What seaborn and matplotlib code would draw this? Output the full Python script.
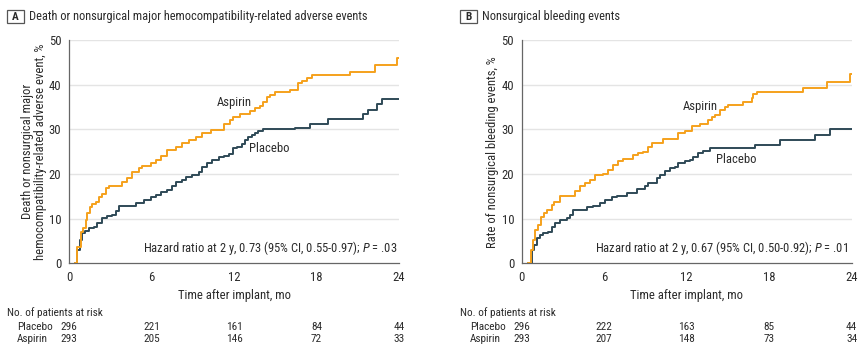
import matplotlib
matplotlib.use("Agg")
import matplotlib.pyplot as plt
from matplotlib import font_manager
from matplotlib.patches import Rectangle
import seaborn as sns
import pandas as pd

# ---------------- data ----------------
a_asp_t = [0.45, 0.61, 0.85, 1.02, 1.21, 1.33, 1.50, 1.70, 1.99, 2.18, 2.42, 2.67, 2.91, 3.88, 4.24, 4.61,
           5.09, 5.33, 5.94, 6.30, 6.67, 7.15, 7.76, 8.24, 8.73, 9.21, 9.70, 10.30, 11.27, 11.71, 11.95,
           12.44, 13.16, 13.53, 13.89, 14.13, 14.38, 14.62, 14.98, 16.07, 16.68, 16.92, 17.28, 17.65,
           20.44, 22.25, 23.83, 24.0]
a_asp_v = [0, 3.7, 7.1, 7.8, 9.7, 11.2, 12.7, 13.3, 13.8, 14.9, 15.5, 16.8, 17.3, 18.3, 19.0, 20.5,
           21.3, 21.8, 22.4, 23.1, 24.0, 25.4, 26.1, 26.9, 27.5, 28.2, 29.1, 29.9, 31.2, 32.0, 32.7,
           33.4, 34.2, 34.7, 35.2, 36.2, 37.2, 37.7, 38.4, 38.9, 40.3, 40.9, 41.4, 42.2,
           42.9, 44.4, 45.9, 45.9]
a_pla_t = [0.45, 0.61, 0.78, 0.97, 1.16, 1.45, 1.82, 2.06, 2.42, 2.79, 3.15, 3.39, 3.64, 4.85, 5.45, 5.94,
           6.30, 6.67, 7.15, 7.52, 7.76, 8.24, 8.48, 8.97, 9.45, 9.70, 10.06, 10.42, 10.91, 11.27, 11.64,
           11.95, 12.19, 12.56, 12.80, 13.04, 13.28, 13.53, 13.77, 14.13, 16.44, 17.53, 18.86, 21.40,
           21.77, 22.38, 22.74, 24.0]
a_pla_v = [0, 3.0, 5.2, 6.7, 7.3, 7.8, 8.2, 9.0, 10.1, 10.6, 10.8, 11.6, 12.8, 13.6, 14.2, 14.8,
           15.3, 16.0, 16.4, 17.3, 18.3, 18.7, 19.3, 19.8, 20.5, 21.6, 22.4, 23.1, 23.7, 24.0, 24.5,
           25.9, 26.1, 26.8, 27.6, 28.2, 28.7, 29.2, 29.7, 30.0, 30.4, 31.3, 32.2, 33.4,
           34.4, 35.6, 36.9, 36.9]

b_asp_t = [0.48, 0.68, 0.85, 1.00, 1.20, 1.40, 1.62, 1.85, 2.18, 2.37, 2.79, 3.88, 4.24, 4.61, 4.97, 5.33,
           5.94, 6.30, 6.67, 7.03, 7.39, 8.12, 8.48, 8.85, 9.21, 9.45, 10.30, 11.39, 11.88, 12.36, 12.97,
           13.57, 13.82, 14.06, 14.42, 14.79, 15.03, 16.12, 16.73, 16.84, 17.09, 20.48, 22.18, 23.88, 24.0]
b_asp_v = [0, 3.0, 5.2, 7.5, 8.6, 10.4, 11.2, 11.9, 13.1, 13.8, 15.1, 16.3, 17.2, 17.9, 18.7, 19.8,
           20.1, 20.9, 22.0, 22.8, 23.3, 24.3, 24.6, 25.0, 26.1, 26.9, 27.8, 29.1, 29.7, 30.7, 31.3,
           32.1, 32.7, 33.2, 34.3, 35.0, 35.4, 36.1, 37.1, 37.9, 38.4, 39.3, 40.6, 42.3, 42.3]
b_pla_t = [0.48, 0.73, 0.90, 1.09, 1.33, 1.58, 1.94, 2.18, 2.42, 2.79, 3.27, 3.52, 3.71, 4.73, 5.21, 5.70,
           6.06, 6.55, 6.91, 7.64, 8.36, 8.97, 9.21, 9.82, 10.06, 10.42, 10.79, 11.15, 11.39, 11.88,
           12.24, 12.48, 12.85, 13.21, 13.70, 16.97, 18.79, 21.33, 22.40, 24.0]
b_pla_v = [0, 3.0, 4.1, 5.6, 6.3, 6.7, 7.1, 8.1, 9.0, 9.7, 10.1, 10.8, 11.9, 12.5, 12.8, 13.6,
           14.2, 14.8, 15.1, 15.8, 16.6, 17.2, 17.9, 19.0, 19.8, 20.7, 21.3, 21.6, 22.5, 22.9,
           23.2, 23.9, 24.6, 25.2, 25.8, 26.6, 27.5, 28.7, 30.0, 30.0]

groups = ["Placebo", "Aspirin"]
risk_times = [0, 6, 12, 18, 24]
a_risk_placebo = [296, 221, 161, 84, 44]
a_risk_aspirin = [293, 205, 146, 72, 33]
b_risk_placebo = [296, 222, 163, 85, 44]
b_risk_aspirin = [293, 207, 148, 73, 34]

titles = ["Death or nonsurgical major hemocompatibility-related adverse events",
          "Nonsurgical bleeding events"]
panel_letters = ["A", "B"]
ylabels = ["Death or nonsurgical major\nhemocompatibility-related adverse event, %",
           "Rate of nonsurgical bleeding events, %"]
xlabel = "Time after implant, mo"
hr_texts = ["Hazard ratio at 2 y, 0.73 (95% CI, 0.55-0.97); $P$ = .03",
            "Hazard ratio at 2 y, 0.67 (95% CI, 0.50-0.92); $P$ = .01"]
risk_header = "No. of patients at risk"

# ---------------- style ----------------
sns.set_theme(style="white")
regular = {f.name for f in font_manager.fontManager.ttflist if f.style == "normal"}
fam = "DejaVu Sans"
for cand in ["Roboto Condensed", "PT Sans Narrow", "Archivo Narrow", "Liberation Sans Narrow",
             "Fira Sans Condensed", "IBM Plex Sans Condensed", "Open Sans Condensed",
             "Barlow Semi Condensed", "Encode Sans Condensed", "Lato"]:
    if cand in regular:
        fam = cand
        break
plt.rcParams["font.family"] = [fam, "DejaVu Sans"]
plt.rcParams["mathtext.fontset"] = "custom"
plt.rcParams["mathtext.it"] = fam + ":italic"
plt.rcParams["mathtext.rm"] = fam

ORANGE = "#F5A11C"
SLATE = "#2F4A57"
TXT = "#2B2B2B"
palette = {"Placebo": SLATE, "Aspirin": ORANGE}

W, H = 865, 352
fig = plt.figure(figsize=(W / 100, H / 100), dpi=100)
renderer = fig.canvas.get_renderer()


def fit(s, target_px, **kw):
    t = fig.text(0, 0, s, fontsize=10, **kw)
    w = t.get_window_extent(renderer).width
    t.remove()
    return 10 * target_px / w


s_title = fit(titles[0], 337)
s_hr = fit(hr_texts[0], 255)
s_lab = fit(xlabel, 112)
s_risk = fit(risk_header, 95)
s_tick = s_lab


def fx(px):
    return px / W


def fy(py):
    return 1 - py / H


ax_left_px = [69, 521.7]
ax_w_px = 330
ax_top_px, ax_bot_px = 40, 263.3
ylabel_pads = [1.0, 2.0]

panels = [
    (a_asp_t, a_asp_v, a_pla_t, a_pla_v, a_risk_placebo, a_risk_aspirin,
     (12.0, 36.1), (14.6, 25.8), 23.85),
    (b_asp_t, b_asp_v, b_pla_t, b_pla_v, b_risk_placebo, b_risk_aspirin,
     (12.97, 35.0), (15.6, 23.3), 23.75),
]

for i, (at, av, pt, pv, rp, ra, asp_pos, pla_pos, hr_x) in enumerate(panels):
    lpx = ax_left_px[i]
    ax = fig.add_axes([fx(lpx), fy(ax_bot_px), ax_w_px / W, (ax_bot_px - ax_top_px) / H])
    df = pd.concat([
        pd.DataFrame({"t": pt, "v": pv, "group": "Placebo"}),
        pd.DataFrame({"t": at, "v": av, "group": "Aspirin"}),
    ])
    sns.lineplot(data=df, x="t", y="v", hue="group", palette=palette, estimator=None,
                 sort=False, drawstyle="steps-post", linewidth=1.4, legend=False, ax=ax, zorder=3)
    ax.set_xlim(0, 24)
    ax.set_ylim(0, 50)
    ax.set_xticks(risk_times)
    ax.set_yticks([0, 10, 20, 30, 40, 50])
    for y in [10, 20, 30, 40, 50]:
        ax.axhline(y, color="#E4E4E4", lw=1.0, zorder=1)
    for s in ["top", "right"]:
        ax.spines[s].set_visible(False)
    for s in ["left", "bottom"]:
        ax.spines[s].set_color("#666666")
        ax.spines[s].set_linewidth(0.9)
    ax.tick_params(axis="both", direction="out", length=3.5, width=0.9, color="#666666",
                   labelsize=s_tick, labelcolor=TXT, pad=2)
    ax.set_xlabel(xlabel, fontsize=s_lab, color=TXT, labelpad=4)
    ax.set_ylabel(ylabels[i], fontsize=s_lab, color=TXT, labelpad=ylabel_pads[i], linespacing=1.05)
    ax.text(asp_pos[0], asp_pos[1], "Aspirin", fontsize=s_lab, color=TXT, ha="center", va="center")
    ax.text(pla_pos[0], pla_pos[1], "Placebo", fontsize=s_lab, color=TXT, ha="center", va="center")
    ax.text(hr_x, 3.4, hr_texts[i], fontsize=s_hr, color=TXT, ha="right", va="center")

    # panel title with boxed letter
    box_l = lpx - 62
    fig.text(fx(box_l + 8.5), fy(16.7), panel_letters[i], fontsize=s_risk, fontweight="bold",
             color=TXT, ha="center", va="center")
    fig.patches.append(Rectangle((fx(box_l), fy(23.3)), 17 / W, 13.3 / H, transform=fig.transFigure,
                                 fill=False, edgecolor="#555555", lw=0.9))
    fig.text(fx(box_l + 22.5), fy(16.7), titles[i], fontsize=s_title, color=TXT, ha="left", va="center")

    # risk table
    fig.text(fx(lpx - 62), fy(313), risk_header, fontsize=s_risk, color=TXT,
             ha="left", va="center")
    fig.text(fx(lpx - 52), fy(327), groups[0], fontsize=s_risk, color=TXT, ha="left", va="center")
    fig.text(fx(lpx - 52), fy(339), groups[1], fontsize=s_risk, color=TXT, ha="left", va="center")
    for t, n1, n2 in zip(risk_times, rp, ra):
        xfig = fx(lpx + t / 24 * ax_w_px)
        fig.text(xfig, fy(327), str(n1), fontsize=s_risk, color=TXT, ha="center", va="center")
        fig.text(xfig, fy(339), str(n2), fontsize=s_risk, color=TXT, ha="center", va="center")

fig.savefig("out.png", dpi=100)
